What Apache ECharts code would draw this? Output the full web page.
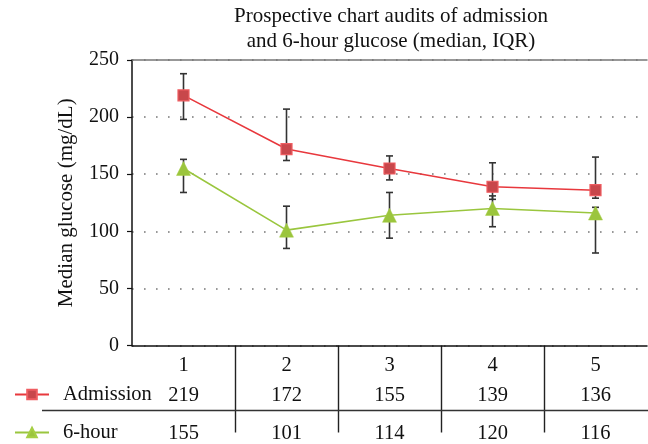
<!DOCTYPE html>
<html>
<head>
<meta charset="utf-8">
<script src="https://cdn.jsdelivr.net/npm/echarts@6/dist/echarts.min.js"></script>
<style>
  html, body { margin: 0; padding: 0; background: #fff; }
  #chart { width: 648px; height: 444px; }
</style>
</head>
<body>
<div id="chart"></div>
<script>
// Audit rounds
const categories = ['1', '2', '3', '4', '5'];

// Median glucose (mg/dL)
const admission = [219, 172, 155, 139, 136];
const sixHour = [155, 101, 114, 120, 116];

// Interquartile ranges
const admissionLow = [198, 162, 145, 128, 129];
const admissionHigh = [238, 207, 166, 160, 165];
const sixHourLow = [134, 85, 94, 104, 81];
const sixHourHigh = [163, 122, 134, 131, 121];

const yTicks = { min: 0, max: 250, interval: 50 };

const FONT = '"Liberation Serif", "DejaVu Serif", serif';
const RED = '#e8383d';
const GREEN = '#9ac63e';

function iqrData(low, high) {
  return categories.map((c, i) => [i, low[i], high[i]]);
}

function renderIqr(params, api) {
  const idx = api.value(0);
  const lo = api.coord([idx, api.value(1)]);
  const hi = api.coord([idx, api.value(2)]);
  const cap = 3.5;
  const style = { stroke: '#333', lineWidth: 1.6 };
  return {
    type: 'group',
    children: [
      { type: 'line', shape: { x1: lo[0], y1: lo[1], x2: hi[0], y2: hi[1] }, style },
      { type: 'line', shape: { x1: lo[0] - cap, y1: lo[1], x2: lo[0] + cap, y2: lo[1] }, style },
      { type: 'line', shape: { x1: hi[0] - cap, y1: hi[1], x2: hi[0] + cap, y2: hi[1] }, style }
    ]
  };
}

const chart = echarts.init(document.getElementById('chart'), null, { renderer: 'canvas' });

const option = {
  animation: false,
  backgroundColor: '#fff',
  title: {
    text: 'Prospective chart audits of admission\nand 6-hour glucose (median, IQR)',
    left: 391,
    top: 4,
    padding: 0,
    textAlign: 'center',
    textStyle: {
      fontFamily: FONT,
      fontSize: 21,
      fontWeight: 'normal',
      color: '#111',
      lineHeight: 25
    }
  },
  legend: {
    orient: 'vertical',
    left: 14,
    top: 384,
    padding: 0,
    itemWidth: 34,
    itemHeight: 12,
    itemGap: 17,
    textStyle: {
      fontFamily: FONT,
      fontSize: 20.5,
      color: '#111',
      lineHeight: 20,
      padding: [0, 0, 0, 9]
    },
    data: ['Admission', '6-hour']
  },
  grid: {
    left: 132,
    right: 1,
    top: 60,
    bottom: 98,
    containLabel: false
  },
  xAxis: [
    {
      type: 'category',
      data: categories,
      boundaryGap: true,
      axisLine: { lineStyle: { color: '#111', width: 1.5 } },
      axisTick: { show: false },
      splitLine: { show: false },
      axisLabel: {
        margin: 2,
        fontFamily: FONT,
        color: '#111',
        formatter: function (value, index) {
          return '{a|' + value + '}\n{b|' + admission[index] + '}\n{c|' + sixHour[index] + '}';
        },
        rich: {
          a: { fontFamily: FONT, fontSize: 20.5, color: '#111', lineHeight: 36 },
          b: { fontFamily: FONT, fontSize: 20.5, color: '#111', lineHeight: 25 },
          c: { fontFamily: FONT, fontSize: 20.5, color: '#111', lineHeight: 50 }
        }
      }
    },
    {
      type: 'category',
      data: categories,
      position: 'top',
      axisLine: { lineStyle: { color: '#777', width: 1.5 } },
      axisTick: { show: false },
      axisLabel: { show: false },
      splitLine: { show: false }
    }
  ],
  yAxis: {
    type: 'value',
    min: yTicks.min,
    max: yTicks.max,
    interval: yTicks.interval,
    name: 'Median glucose (mg/dL)',
    nameLocation: 'middle',
    nameGap: 55,
    nameTextStyle: { fontFamily: FONT, fontSize: 21, color: '#111' },
    axisLine: { show: true, lineStyle: { color: '#111', width: 1.5 } },
    axisTick: { show: true, length: 5, lineStyle: { color: '#111', width: 1.2 } },
    axisLabel: { margin: 13, fontFamily: FONT, fontSize: 20, color: '#111' },
    splitLine: {
      show: true,
      lineStyle: { color: '#777', width: 1.6, type: [1.6, 10.4] }
    }
  },
  series: [
    {
      name: 'Admission IQR',
      type: 'custom',
      renderItem: renderIqr,
      encode: { x: 0, y: [1, 2] },
      data: iqrData(admissionLow, admissionHigh),
      z: 1,
      silent: true
    },
    {
      name: '6-hour IQR',
      type: 'custom',
      renderItem: renderIqr,
      encode: { x: 0, y: [1, 2] },
      data: iqrData(sixHourLow, sixHourHigh),
      z: 1,
      silent: true
    },
    {
      name: 'Admission',
      type: 'line',
      data: admission,
      symbol: 'rect',
      symbolSize: 11,
      color: RED,
      lineStyle: { color: RED, width: 1.6 },
      itemStyle: { color: '#c8474b', borderColor: '#ef5d61', borderWidth: 1.2 },
      z: 3
    },
    {
      name: '6-hour',
      type: 'line',
      data: sixHour,
      symbol: 'triangle',
      symbolSize: 14,
      color: GREEN,
      lineStyle: { color: GREEN, width: 1.6 },
      itemStyle: { color: '#9bc53d', borderColor: '#a6cf45', borderWidth: 0.5 },
      z: 3
    }
  ]
};

chart.setOption(option);

// Table rules: vertical dividers between categories and the row separator
const axisY = chart.convertToPixel({ yAxisIndex: 0 }, 0);
const rules = [];
for (let i = 0; i < categories.length - 1; i++) {
  const a = chart.convertToPixel({ xAxisIndex: 0 }, i);
  const b = chart.convertToPixel({ xAxisIndex: 0 }, i + 1);
  const x = Math.round((a + b) / 2) + 0.5;
  rules.push({
    type: 'line',
    shape: { x1: x, y1: axisY, x2: x, y2: axisY + 87 },
    style: { stroke: '#222', lineWidth: 1.4 },
    silent: true
  });
}
rules.push({
  type: 'line',
  shape: { x1: 42, y1: axisY + 65, x2: 648, y2: axisY + 65 },
  style: { stroke: '#333', lineWidth: 1.4 },
  silent: true
});
chart.setOption({ graphic: rules });
</script>
</body>
</html>
